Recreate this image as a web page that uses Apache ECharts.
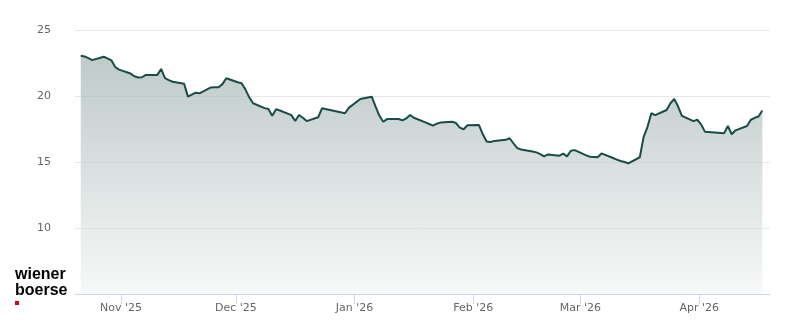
<!DOCTYPE html>
<html>
<head>
<meta charset="utf-8">
<script src="https://cdn.jsdelivr.net/npm/echarts@6/dist/echarts.min.js"></script>
<style>
html,body{margin:0;padding:0;background:#fff;}
#chart{width:800px;height:324px;}
</style>
</head>
<body>
<div id="chart"></div>
<script>
// Trading dates (daily closes)
const dates = [
 '2025-10-21','2025-10-22','2025-10-23','2025-10-24',
 '2025-10-27','2025-10-28','2025-10-29','2025-10-30','2025-10-31',
 '2025-11-03','2025-11-04','2025-11-05','2025-11-06','2025-11-07',
 '2025-11-10','2025-11-11','2025-11-12','2025-11-13','2025-11-14',
 '2025-11-17','2025-11-18','2025-11-19','2025-11-20','2025-11-21',
 '2025-11-24','2025-11-25','2025-11-26','2025-11-27','2025-11-28',
 '2025-12-01','2025-12-02','2025-12-03','2025-12-04','2025-12-05',
 '2025-12-08','2025-12-09','2025-12-10','2025-12-11','2025-12-12',
 '2025-12-15','2025-12-16','2025-12-17','2025-12-18','2025-12-19',
 '2025-12-22','2025-12-23',
 '2025-12-29','2025-12-30',
 '2026-01-02',
 '2026-01-05','2026-01-06','2026-01-07','2026-01-08','2026-01-09',
 '2026-01-12','2026-01-13','2026-01-14','2026-01-15','2026-01-16',
 '2026-01-19','2026-01-20','2026-01-21','2026-01-22','2026-01-23',
 '2026-01-26','2026-01-27','2026-01-28','2026-01-29','2026-01-30',
 '2026-02-02','2026-02-03','2026-02-04','2026-02-05','2026-02-06',
 '2026-02-09','2026-02-10','2026-02-11','2026-02-12','2026-02-13',
 '2026-02-16','2026-02-17','2026-02-18','2026-02-19','2026-02-20',
 '2026-02-23','2026-02-24','2026-02-25','2026-02-26','2026-02-27',
 '2026-03-02','2026-03-03','2026-03-04','2026-03-05','2026-03-06',
 '2026-03-09','2026-03-10','2026-03-11','2026-03-12','2026-03-13',
 '2026-03-16','2026-03-17','2026-03-18','2026-03-19','2026-03-20',
 '2026-03-23','2026-03-24','2026-03-25','2026-03-26','2026-03-27',
 '2026-03-30','2026-03-31','2026-04-01','2026-04-02',
 '2026-04-07','2026-04-08','2026-04-09','2026-04-10',
 '2026-04-13','2026-04-14','2026-04-15','2026-04-16','2026-04-17'
];
const prices = [
 23.05,23.00,22.87,22.72,
 22.97,22.85,22.70,22.20,22.00,
 21.70,21.50,21.40,21.42,21.60,
 21.60,22.05,21.35,21.20,21.08,
 20.92,19.95,20.10,20.25,20.20,
 20.65,20.66,20.66,20.90,21.34,
 21.04,20.97,20.50,19.90,19.45,
 19.08,19.02,18.50,19.00,18.90,
 18.55,18.10,18.56,18.35,18.10,
 18.39,19.07,
 18.69,19.10,
 19.77,
 19.95,19.20,18.50,18.05,18.25,
 18.26,18.15,18.30,18.56,18.35,
 18.00,17.88,17.75,17.90,18.00,
 18.05,17.95,17.60,17.48,17.78,
 17.80,17.10,16.55,16.52,16.60,
 16.68,16.80,16.42,16.05,15.95,
 15.80,15.73,15.60,15.42,15.57,
 15.48,15.63,15.43,15.85,15.90,
 15.50,15.40,15.38,15.36,15.65,
 15.30,15.18,15.08,15.00,14.90,
 15.36,16.90,17.65,18.70,18.55,
 18.94,19.45,19.77,19.20,18.50,
 18.10,18.20,17.85,17.30,
 17.17,17.73,17.10,17.40,
 17.73,18.20,18.35,18.45,18.90
];
// Month tick marks on the x axis
const monthTicks = ['2025-11-01','2025-12-01','2026-01-01','2026-02-01','2026-03-01','2026-04-01'];
const monthNames = ['Jan','Feb','Mar','Apr','May','Jun','Jul','Aug','Sep','Oct','Nov','Dec'];
// Y axis ticks
const yTicks = [5,10,15,20,25];

const seriesData = dates.map((d,i)=>[Date.parse(d+'T12:00:00Z'), prices[i]]);
const tickVals = monthTicks.map(d=>Date.parse(d+'T00:00:00Z'));

const chart = echarts.init(document.getElementById('chart'), null, {renderer:'canvas'});
chart.setOption({
  animation:false,
  backgroundColor:'#ffffff',
  grid:{left:75,right:30,top:30,bottom:30,containLabel:false},
  xAxis:{
    type:'value',
    scale:true,
    min:Date.parse('2025-10-20T00:00:00Z'),
    max:Date.parse('2026-04-19T12:00:00Z'),
    axisLine:{show:true,lineStyle:{color:'#ccd6eb',width:1}},
    axisTick:{show:true,customValues:tickVals,length:10,lineStyle:{color:'#ccd6eb'}},
    axisLabel:{
      customValues:tickVals,
      color:'#666666',fontSize:11,fontFamily:'DejaVu Sans',margin:9,
      formatter:function(v){const d=new Date(v);return monthNames[d.getUTCMonth()]+" '"+String(d.getUTCFullYear()).slice(2);}
    },
    splitLine:{show:false}
  },
  yAxis:{
    type:'value',
    min:yTicks[0],max:yTicks[yTicks.length-1],interval:5,
    axisLine:{show:false},axisTick:{show:false},
    axisLabel:{showMinLabel:false,color:'#666666',fontSize:11,fontFamily:'DejaVu Sans',margin:24},
    splitLine:{show:true,lineStyle:{color:'#e6e6e6',width:1}}
  },
  series:[{
    type:'line',
    data:seriesData,
    showSymbol:false,
    smooth:false,
    lineStyle:{color:'#174c47',width:2},
    itemStyle:{color:'#174c47'},
    areaStyle:{
      color:new echarts.graphic.LinearGradient(0,0,0,1,[
        {offset:0,color:'#a3b3b1'},
        {offset:1,color:'#f4f6f6'}
      ])
    }
  }],
  graphic:[
    {type:'text',left:15,top:267,style:{text:'wiener',fill:'#000000',font:'bold 16px "Liberation Sans"'}},
    {type:'text',left:15,top:283,style:{text:'boerse',fill:'#000000',font:'bold 16px "Liberation Sans"'}},
    {type:'rect',left:15,top:301,shape:{width:4,height:4},style:{fill:'#d0021b'}}
  ]
});
</script>
</body>
</html>
